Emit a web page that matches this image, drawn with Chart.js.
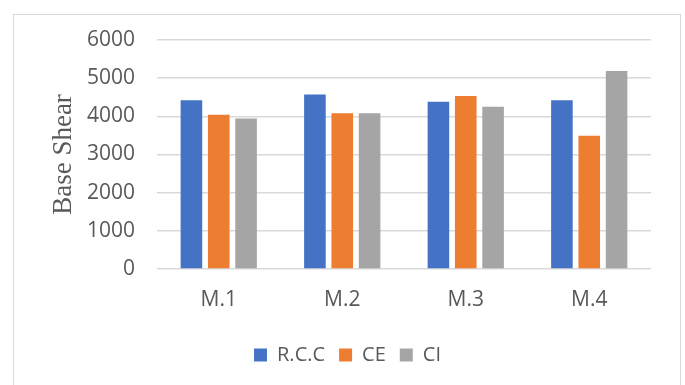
<!DOCTYPE html>
<html>
<head>
<meta charset="utf-8">
<script src="https://cdn.jsdelivr.net/npm/chart.js@4/dist/chart.umd.min.js"></script>
<style>
  html, body { margin: 0; padding: 0; background: #ffffff; }
  #wrap { position: relative; width: 685px; height: 385px; overflow: hidden; }
  #frame { position: absolute; left: 13px; top: 14px; width: 668px; height: 420px; border: 1px solid #d9d9d9; box-sizing: border-box; }
  canvas { position: absolute; left: 0; top: 0; }
</style>
</head>
<body>
<div id="wrap">
  <div id="frame"></div>
  <canvas id="chart" width="685" height="385"></canvas>
</div>
<script>
// Base shear per model, for each section type
const models = ['M.1', 'M.2', 'M.3', 'M.4'];
const rccValues = [4420, 4575, 4385, 4420];
const ceValues  = [4040, 4080, 4530, 3490];
const ciValues  = [3940, 4080, 4250, 5190];
const yTicks = [0, 1000, 2000, 3000, 4000, 5000, 6000];

const tickFont = { family: '"Open Sans", "Noto Sans", sans-serif', size: 21 };

// Centre the legend row inside the framed panel rather than the plot width
const legendShift = {
  id: 'legendShift',
  beforeDraw(chart) {
    const lg = chart.legend;
    if (lg) { lg.left = 13; lg.right = 682; }
  }
};

new Chart(document.getElementById('chart'), {
  type: 'bar',
  data: {
    labels: models,
    datasets: [
      { label: 'R.C.C', data: rccValues, backgroundColor: '#4472C4' },
      { label: 'CE',    data: ceValues,  backgroundColor: '#ED7D31' },
      { label: 'CI',    data: ciValues,  backgroundColor: '#A5A5A5' }
    ]
  },
  plugins: [legendShift],
  options: {
    responsive: false,
    animation: false,
    devicePixelRatio: 1,
    layout: { padding: { left: 0, right: 34, top: 40, bottom: 10 } },
    datasets: { bar: { categoryPercentage: 0.664, barPercentage: 0.79 } },
    plugins: {
      tooltip: { enabled: false },
      legend: {
        position: 'bottom',
        labels: {
          boxWidth: 13,
          boxHeight: 13,
          padding: 14,
          color: '#595959',
          font: { family: '"Open Sans", "Noto Sans", sans-serif', size: 20 }
        }
      }
    },
    scales: {
      x: {
        grid: { display: false },
        border: { display: false },
        ticks: { color: '#595959', font: tickFont, padding: 10 },
        afterFit: (s) => { s.height = 62; }
      },
      y: {
        min: 0,
        max: 6000,
        afterBuildTicks: (s) => { s.ticks = yTicks.map(v => ({ value: v })); },
        grid: { color: '#d9d9d9', lineWidth: 1.4, drawTicks: false },
        border: { display: false },
        ticks: { color: '#595959', font: tickFont, padding: 22, callback: (v) => String(v) },
        title: {
          display: true,
          text: 'Base Shear',
          color: '#595959',
          font: { family: '"Liberation Serif", "Times New Roman", serif', size: 27 },
          padding: { top: 48, bottom: 0 }
        },
        afterFit: (s) => { s.width = 157; }
      }
    }
  }
});
</script>
</body>
</html>
